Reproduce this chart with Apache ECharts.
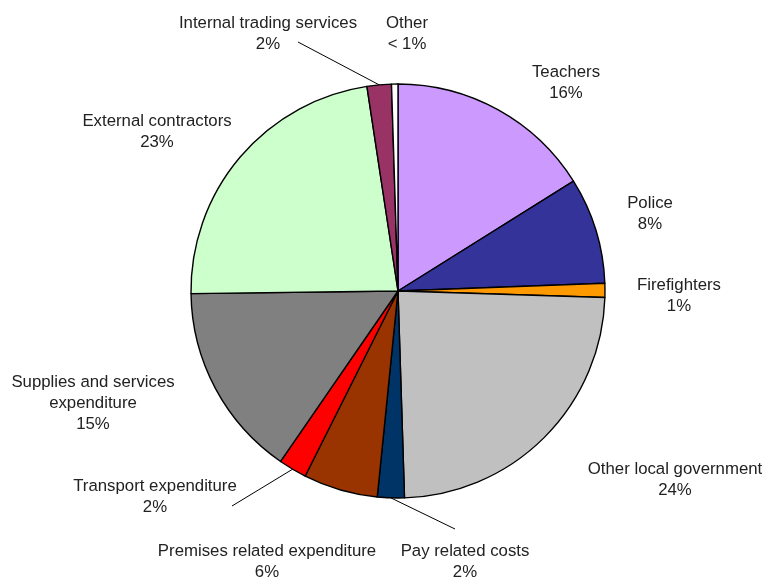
<!DOCTYPE html>
<html>
<head>
<meta charset="utf-8">
<script src="https://cdn.jsdelivr.net/npm/echarts@6/dist/echarts.min.js"></script>
<style>
  html, body { margin: 0; padding: 0; background: #fff; }
  #chart { width: 767px; height: 579px; }
</style>
</head>
<body>
<div id="chart"></div>
<script>
// categories, clockwise from 12 o'clock
const categories = [
  'Teachers', 'Police', 'Firefighters', 'Other local government',
  'Pay related costs', 'Premises related expenditure', 'Transport expenditure',
  'Supplies and services expenditure', 'External contractors',
  'Internal trading services', 'Other'
];
// share of spend, %
const values = [16.1, 8.3, 1.1, 24.0, 2.1, 5.8, 2.2, 15.2, 22.8, 1.9, 0.5];

const sliceColors = [
  '#CC99FF', '#333399', '#FF9900', '#C0C0C0', '#003366', '#993300',
  '#FF0000', '#808080', '#CCFFCC', '#993366', '#FFFFFF'
];

// where each label block is centred (px), and which ones get a leader line
const labelPos = [
  [566, 83], [650, 214], [679, 296], [675, 480], [465, 562], [267, 562],
  [155, 497], [93, 403], [157, 132], [268, 34], [407, 34]
];
const leaderEnd = {
  'Internal trading services': [298, 42],
  'Transport expenditure': [232, 506],
  'Pay related costs': [455, 529]
};
const wrapped = {
  'Supplies and services expenditure': 'Supplies and services\nexpenditure'
};

const chart = echarts.init(document.getElementById('chart'));

const data = categories.map((name, i) => ({
  name: name,
  value: values[i],
  itemStyle: { color: sliceColors[i] },
  labelLine: { show: !!leaderEnd[name] }
}));

chart.setOption({
  animation: false,
  backgroundColor: '#fff',
  series: [{
    type: 'pie',
    center: [398, 291],
    radius: 207,
    startAngle: 90,
    clockwise: true,
    avoidLabelOverlap: false,
    data: data,
    itemStyle: {
      borderColor: '#000',
      borderWidth: 1.4
    },
    label: {
      show: true,
      position: 'outside',
      color: '#222',
      fontFamily: '"Liberation Sans", Arial, sans-serif',
      fontSize: 16.8,
      lineHeight: 21,
      align: 'center',
      formatter: function (p) {
        const pct = p.percent < 1 ? '< 1%' : Math.round(p.percent) + '%';
        return (wrapped[p.name] || p.name) + '\n' + pct;
      }
    },
    labelLine: {
      length: 10,
      length2: 10,
      lineStyle: { color: '#000', width: 1 }
    },
    labelLayout: function (params) {
      const i = params.dataIndex;
      const name = categories[i];
      const out = {
        x: labelPos[i][0],
        y: labelPos[i][1],
        align: 'center',
        verticalAlign: 'middle'
      };
      if (leaderEnd[name] && params.labelLinePoints) {
        out.labelLinePoints = [params.labelLinePoints[0], leaderEnd[name]];
      }
      return out;
    }
  }]
});
</script>
</body>
</html>
